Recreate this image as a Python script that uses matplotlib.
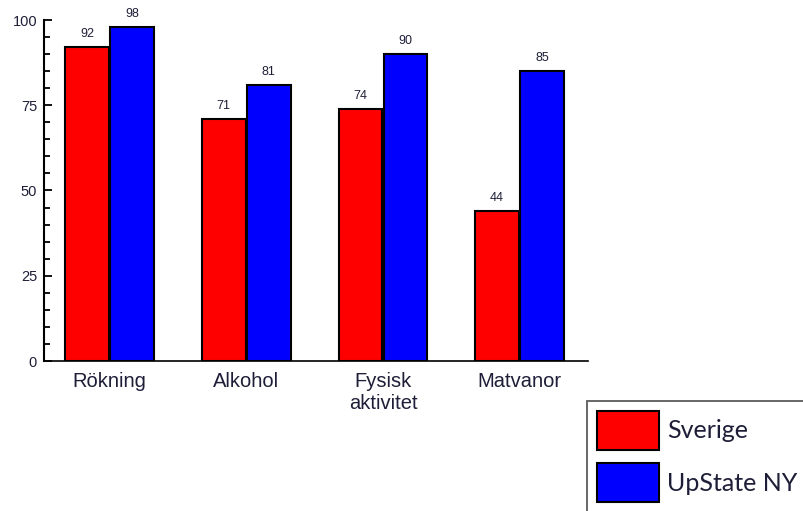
import numpy as np
import matplotlib.pyplot as plt

categories = ["Rökning", "Alkohol", "Fysisk\naktivitet", "Matvanor"]
sverige = [92, 71, 74, 44]
upstate = [98, 81, 90, 85]
yticks = [0, 25, 50, 75, 100]

txt = '#1e1e38'

fig = plt.figure(figsize=(8.04, 5.11), dpi=100)
ax = fig.add_axes([44/804, 1-361/511, (588-44)/804, (361-20)/511])

x = np.arange(len(categories))
w = 0.32
b1 = ax.bar(x - w/2 - 0.005, sverige, w, color='#ff0000', edgecolor='black', linewidth=1.5, label='Sverige')
b2 = ax.bar(x + w/2 + 0.005, upstate, w, color='#0000ff', edgecolor='black', linewidth=1.5, label='UpState NY')

for bars, vals in ((b1, sverige), (b2, upstate)):
    for r, v in zip(bars, vals):
        ax.text(r.get_x() + r.get_width()/2, v + 2, str(v), ha='center', va='bottom',
                fontsize=9, family='Liberation Sans', color=txt)

ax.set_xlim(-0.48, 3.5)
ax.set_ylim(0, 100)
ax.set_xticks(x)
ax.set_xticklabels(categories, fontsize=14.5, family='Liberation Sans', color=txt)
ax.tick_params(axis='x', length=0, pad=8)
ax.set_yticks(yticks)
ax.set_yticks(np.arange(0, 101, 5), minor=True)
ax.set_yticklabels([str(t) for t in yticks], fontsize=10.5, family='Liberation Sans', color=txt)
ax.tick_params(axis='y', which='major', direction='in', length=6, width=1.3, pad=5)
ax.tick_params(axis='y', which='minor', direction='in', length=4, width=1.3)
ax.spines['top'].set_visible(False)
ax.spines['right'].set_visible(False)
ax.spines['left'].set_linewidth(1.5)
ax.spines['bottom'].set_linewidth(1.2)

# legend runs off the right and bottom edges like in the original screenshot
leg = fig.legend(handles=[b1, b2], loc='upper left',
                 bbox_to_anchor=(587/804, 0, 0.3, 1-401/511), mode='expand',
                 prop={'family': 'Lato', 'size': 18}, frameon=True, fancybox=False,
                 edgecolor='#333333', handlelength=2.5, handleheight=2.0,
                 borderpad=0.4, labelspacing=0.55, handletextpad=0.3, borderaxespad=0,
                 labelcolor=txt)
leg.get_frame().set_linewidth(1.3)

fig.savefig('out.png', dpi=100)
